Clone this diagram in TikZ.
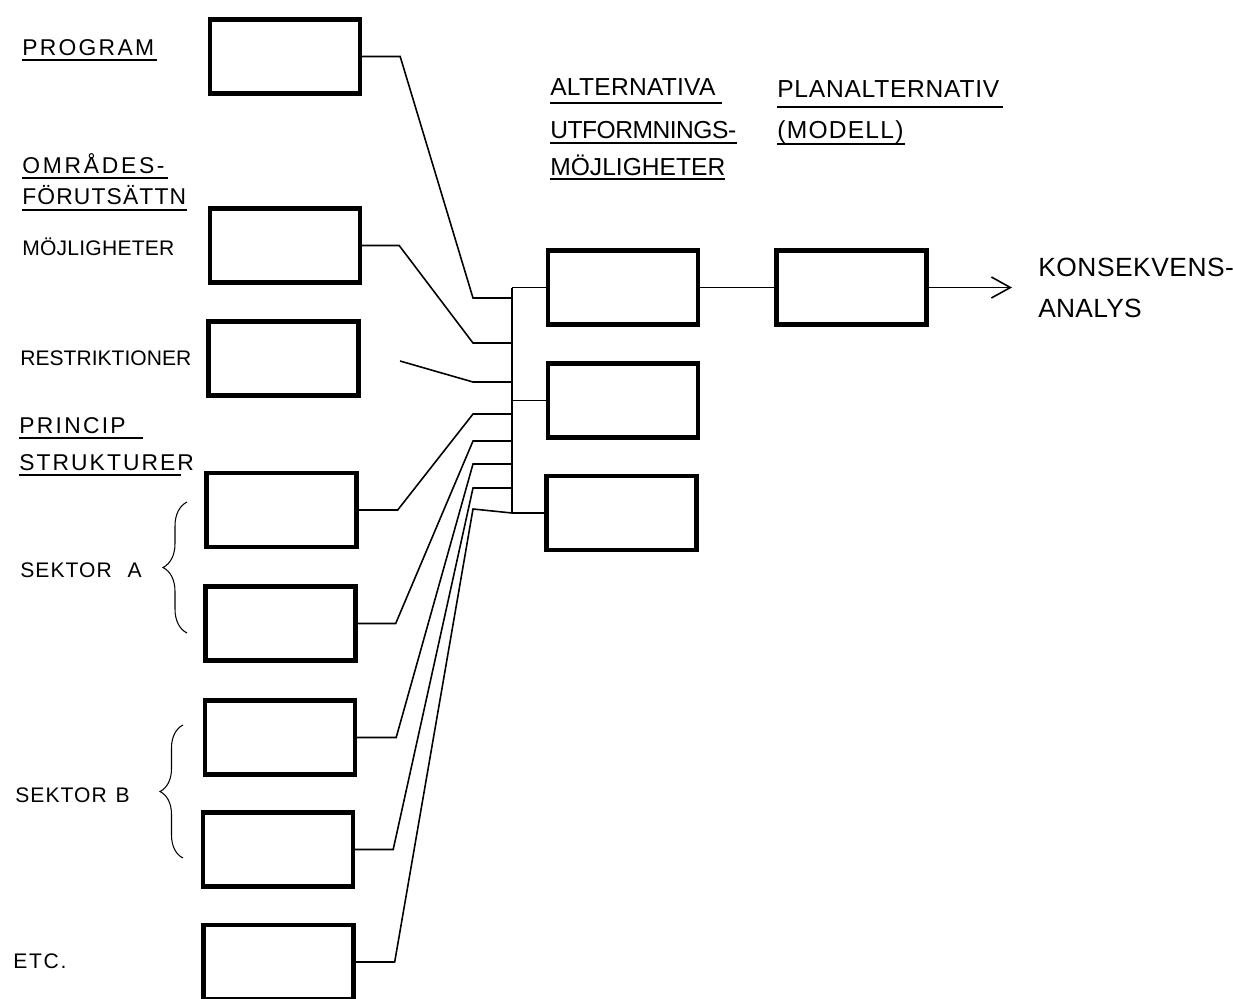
\documentclass[tikz,border=0pt]{standalone}
\usepackage{fontspec}
\setmainfont{Liberation Sans}
\usetikzlibrary{arrows.meta,decorations.pathreplacing}
\newcommand\lsp[2]{{\addfontfeatures{LetterSpace=#1}#2}}
\begin{document}
\begin{tikzpicture}[x=0.02cm,y=-0.02cm,
 box/.style={draw,line width=2.5pt,minimum width=3cm,minimum height=1.48cm,inner sep=0pt},
 conn/.style={line width=0.9pt},
 uline/.style={line width=1pt},
 txt/.style={anchor=base west,inner sep=0pt,font=\fontsize{13}{15}\selectfont},
 stxt/.style={anchor=base west,inner sep=0pt,font=\fontsize{12}{14}\selectfont},
 mtxt/.style={anchor=base west,inner sep=0pt,font=\fontsize{14}{16}\selectfont},
 ktxt/.style={anchor=base west,inner sep=0pt,font=\fontsize{15}{17}\selectfont},
 brc/.style={decorate,decoration={brace,amplitude=#1},line width=0.6pt}
]
\useasboundingbox (0,0) rectangle (1233,998);
\clip (0,0) rectangle (1233,998);
\fill[white] (0,0) rectangle (1233,998);

% left boxes
\node[box] (b1) at (285,56.5) {};
\node[box] (b2) at (285,245.5) {};
\node[box] (b3) at (283.5,358.5) {};
\node[box] (b4) at (281.5,510) {};
\node[box] (b5) at (280.5,623.5) {};
\node[box] (b6) at (280,737.5) {};
\node[box] (b7) at (278,849.5) {};
\node[box] (b8) at (278.5,962) {};

% alternative boxes
\node[box] (a1) at (623,287.5) {};
\node[box] (a2) at (623,400.5) {};
\node[box] (a3) at (621.5,513) {};
% plan box
\node[box] (p) at (851.5,287.5) {};

% bus junctions
\coordinate (jt) at (512,287.5);
\coordinate (jm) at (512,400.5);
\coordinate (jb) at (512,513);
\coordinate (j1) at (512,298);
\coordinate (j2) at (512,343);
\coordinate (j3) at (512,382);
\coordinate (j4) at (512,414);
\coordinate (j5) at (512,441);
\coordinate (j6) at (512,464);
\coordinate (j7) at (512,488);
\coordinate (r0) at (400,361);

% connectors from left boxes
\draw[conn] (b1.east) -- ++(38,0) -- (473,298) -- (j1);
\draw[conn] (b2.east) -- ++(37,0) -- (473,343) -- (j2);
\draw[conn] (r0) -- (473,382) -- (j3);
\draw[conn] (b4.east) -- ++(39,0) -- (473,414) -- (j4);
\draw[conn] (b5.east) -- ++(38,0) -- (473,441) -- (j5);
\draw[conn] (b6.east) -- ++(39,0) -- (473,464) -- (j6);
\draw[conn] (b7.east) -- ++(38,0) -- (473,488) -- (j7);
\draw[conn] (b8.east) -- ++(39,0) -- (473,509) -- (jb);

% bus and branches
\draw[conn] (jt) -- (jb);
\draw[conn] (jt) -- (a1.west);
\draw[conn] (jm) -- (a2.west);
\draw[conn] (jb) -- (a3.west);

% to plan and arrow
\coordinate (kend) at (1012,287.5);
\draw[conn] (a1.east) -- (p.west);
\draw[conn,-{Straight Barb[length=0.38cm,width=0.42cm]}] (p.east) -- (kend);

% left labels
\node[txt] (tprog) at (22,55) {\lsp{10}{PROGRAM}};
\draw[uline] (tprog.base west |- 0,60) -- (157,60);
\node[txt] (tomr) at (22,173) {\lsp{12}{OMRÅDES-}};
\draw[uline] (tomr.base west |- 0,178) -- (168,178);
\node[txt] (tfor) at (22,204) {\lsp{5}{FÖRUTSÄTTN}};
\draw[uline] (tfor.base west |- 0,210) -- (187,210);
\node[stxt] (tmoj) at (22,255) {\lsp{1}{MÖJLIGHETER}};
\node[stxt] (tres) at (20,365) {RESTRIKTIONER};
\node[txt] (tpri) at (19,433) {\lsp{10}{PRINCIP}};
\draw[uline] (tpri.base west |- 0,438) -- (143,438);
\node[txt] (tstr) at (19,470) {\lsp{9}{STRUKTURER}};
\draw[uline] (tstr.base west |- 0,475) -- (181,475);
\node[stxt] (tsa) at (20,577) {\lsp{5}{SEKTOR}\hspace{9pt}\lsp{5}{A}};
\node[stxt] (tsb) at (15,802) {\lsp{5}{SEKTOR}\hspace{5pt}\lsp{5}{B}};
\node[stxt] (tetc) at (13,968) {\lsp{8}{ETC.}};

% braces
\draw[brc=0.48cm] (187,633) -- (187,502);
\draw[brc=0.46cm] (183,858) -- (183,725);

% middle / right labels
\node[mtxt] (talt) at (550,95) {\lsp{1}{ALTERNATIVA}};
\draw[uline] (talt.base west |- 0,103) -- (722,103);
\node[mtxt] (tutf) at (550,138) {\lsp{-2}{UTFORMNINGS-}};
\draw[uline] (tutf.base west |- 0,143) -- (tutf.base east |- 0,143);
\node[mtxt] (tmoj2) at (550,175) {MÖJLIGHETER};
\draw[uline] (tmoj2.base west |- 0,179) -- (725,179);
\node[mtxt] (tplan) at (777,97) {\lsp{3}{PLANALTERNATIV}};
\draw[uline] (tplan.base west |- 0,107) -- (1003,107);
\node[mtxt] (tmod) at (777,138) {\lsp{5}{(MODELL)}};
\draw[uline] (tmod.base west |- 0,144) -- (905,144);
\node[ktxt] (tkon) at (1038,276) {\lsp{2}{KONSEKVENS-}};
\node[ktxt] (tana) at (1038,317) {\lsp{1}{ANALYS}};
\end{tikzpicture}
\end{document}
